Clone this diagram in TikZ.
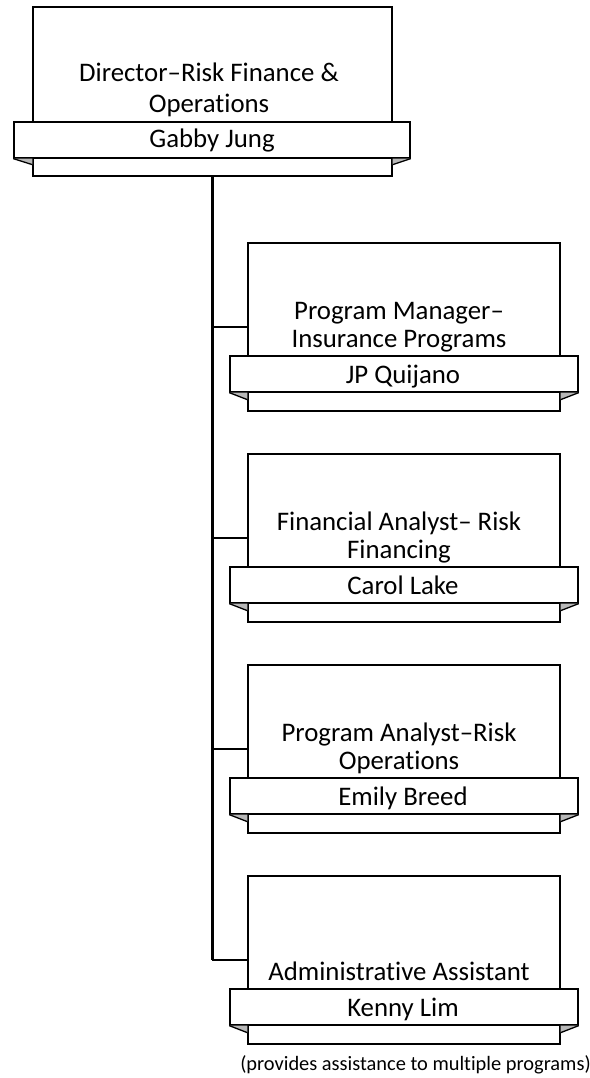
\documentclass[tikz,border=0pt]{standalone}
\usepackage{fontspec}
\setmainfont{Carlito}[Ligatures=NoCommon]
\usetikzlibrary{calc}
\tikzset{
  x=1pt, y=-1pt,
  boxsty/.style={draw, line width=1.3pt, fill=white, inner sep=0pt},
  bansty/.style={draw, line width=1.3pt, fill=white, inner sep=0pt, minimum height=36pt},
  foldfill/.style={fill=black!28},
  foldline/.style={line width=1.3pt},
  lbl/.style={font=\fontsize{26.8}{30}\selectfont, inner sep=0pt, anchor=base},
  note/.style={font=\fontsize{20.4}{24}\selectfont, inner sep=0pt, anchor=base},
  vconn/.style={line width=2.4pt},
  hconn/.style={line width=1.5pt}
}
\begin{document}
\begin{tikzpicture}
\useasboundingbox (0,0) rectangle (589,1078);
% top unit
\node[boxsty, minimum width=359pt, minimum height=169pt] (topbox) at (212.5,91.5) {};
\node[bansty, minimum width=396pt] (topban) at (212,140) {};
\fill[foldfill] (topban.south west) -- (topban.south west -| topbox.west) -- ++(0,6) -- cycle;
\draw[foldline] (topban.south west) -- ($(topban.south west -| topbox.west)+(0,6)$);
\fill[foldfill] (topban.south east) -- (topban.south east -| topbox.east) -- ++(0,6) -- cycle;
\draw[foldline] (topban.south east) -- ($(topban.south east -| topbox.east)+(0,6)$);
\node[lbl] (toptitle) at (209,112.5) {\parbox[b]{340pt}{\fontsize{26.8}{30.8}\selectfont\centering Director–Risk Finance \&\\Operations}};
\node[lbl] (topp) at (212,148) {Gabby Jung};
% child units
\foreach \n/\T/\ttl/\p in {
  ca/243/{Program Manager–\\Insurance Programs}/JP Quijano,
  cb/454/{Financial Analyst– Risk\\Financing}/Carol Lake,
  cc/665/{Program Analyst–Risk\\Operations}/Emily Breed,
  cd/876/{Administrative Assistant}/Kenny Lim}{
  \node[boxsty, minimum width=312pt, minimum height=168pt] (\n box) at (404,{\T+84}) {};
  \node[bansty, minimum width=348pt] (\n ban) at (404,{\T+131}) {};
  \fill[foldfill] (\n ban.south west) -- (\n ban.south west -| \n box.west) -- ++(0,7) -- cycle;
  \draw[foldline] (\n ban.south west) -- ($(\n ban.south west -| \n box.west)+(0,7)$);
  \fill[foldfill] (\n ban.south east) -- (\n ban.south east -| \n box.east) -- ++(0,7) -- cycle;
  \draw[foldline] (\n ban.south east) -- ($(\n ban.south east -| \n box.east)+(0,7)$);
  \node[lbl] (\n title) at (399,{\T+104}) {\parbox[b]{300pt}{\fontsize{26.8}{27.6}\selectfont\centering \ttl}};
  \node[lbl] (\n p) at (403,{\T+140}) {\p};
}
% connectors
\draw[vconn] (topbox.south) -- (topbox.south |- cdbox.west);
\foreach \n in {ca,cb,cc,cd}{
  \draw[hconn] ([xshift=-0.6pt]topbox.south |- \n box.west) -- (\n box.west);
}
\node[note] (notetext) at (415.5,1070) {(provides assistance to multiple programs)};
\end{tikzpicture}
\end{document}
